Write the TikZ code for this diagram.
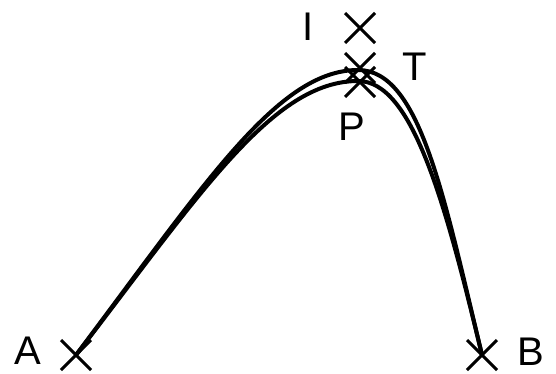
\documentclass[tikz,border=0pt]{standalone}
\usepackage{fontspec}
\setmainfont{Liberation Sans}
\usetikzlibrary{shapes.misc}
\begin{document}
\begin{tikzpicture}[x=1pt,y=-1pt,
  crossmark/.style={draw,cross out,minimum size=27pt,inner sep=0pt,line width=3pt},
  lbl/.style={inner sep=0pt,font=\fontsize{40}{48}\selectfont},
  curve/.style={line width=4pt,line cap=round}]
\useasboundingbox (0,0) rectangle (556,373);
% points
\coordinate (A) at (76,355);
\coordinate (B) at (482,355);
\coordinate (I) at (360,28);
\coordinate (T) at (360,68);
\coordinate (P) at (360,82);
% crosses
\node[crossmark] (xA) at (A) {};
\node[crossmark] (xB) at (B) {};
\node[crossmark] (xI) at (I) {};
\node[crossmark] (xT) at (T) {};
\node[crossmark] (xP) at (P) {};
% labels
\node[lbl] (lA) at (28,351) {A};
\node[lbl] (lB) at (531,352) {B};
\node[lbl] (lI) at (308,27) {I};
\node[lbl] (lT) at (415,67) {T};
\node[lbl] (lP) at (352,127) {P};
% curves
\coordinate (Top1) at (358,70);
\coordinate (Top2) at (358,81);
\draw[curve] (A) .. controls (206,182) and (278,70) .. (Top1)
  .. controls (420,70) and (443.4,195) .. (B);
\draw[curve] (A) .. controls (201,192.5) and (273,81) .. (Top2)
  .. controls (412,81) and (444.6,199.8) .. (B);
\end{tikzpicture}
\end{document}
